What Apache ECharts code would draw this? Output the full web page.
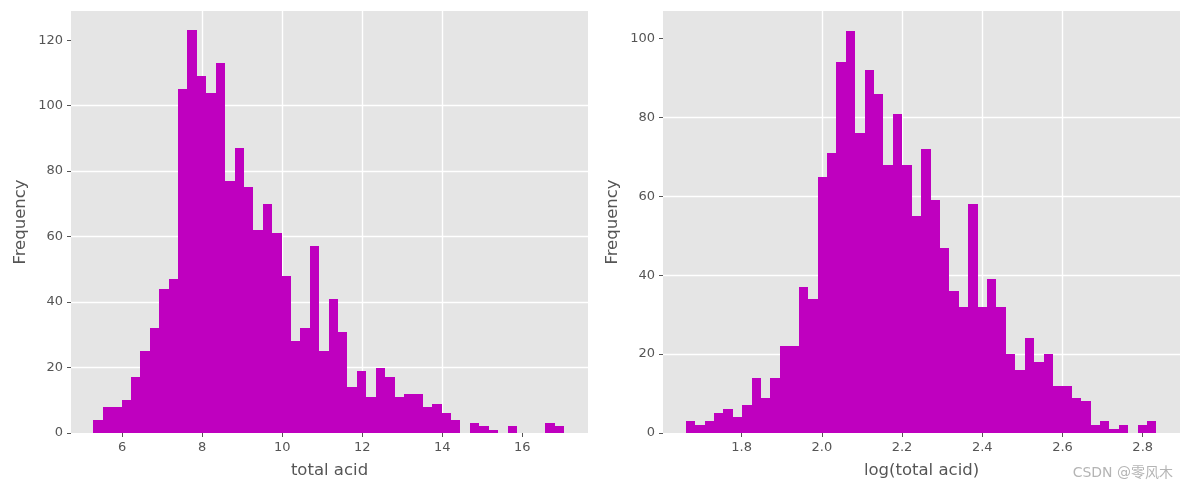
<!DOCTYPE html>
<html>
<head>
<meta charset="utf-8">
<style>
  html, body { margin: 0; padding: 0; background: #fff; }
  #chart { width: 1189px; height: 490px; }
</style>
<script src="https://cdn.jsdelivr.net/npm/echarts@6/dist/echarts.min.js"></script>
</head>
<body>
<div id="chart"></div>
<script>
// bin counts, 50 bins per panel
const acidCounts = [4, 8, 8, 10, 17, 25, 32, 44, 47, 105, 123, 109, 104, 113, 77, 87, 75, 62, 70, 61,
  48, 28, 32, 57, 25, 41, 31, 14, 19, 11, 20, 17, 11, 12, 12, 8, 9, 6, 4, 0,
  3, 2, 1, 0, 2, 0, 0, 0, 3, 2]
const logAcidCounts = [3, 2, 3, 5, 6, 4, 7, 14, 9, 14, 22, 22, 37, 34, 65, 71, 94, 102, 76, 92,
  86, 68, 81, 68, 55, 72, 59, 47, 36, 32, 58, 32, 39, 32, 20, 16, 24, 18, 20, 12,
  12, 9, 8, 2, 3, 1, 2, 0, 2, 3]

const acidStart = 5.2773
const acidEnd = 17.04
const logAcidStart = 1.6607
const logAcidEnd = 2.8344

const acidXTicks = [6, 8, 10, 12, 14, 16]
const acidYTicks = [0, 20, 40, 60, 80, 100, 120]
const logAcidXTicks = [1.8, 2.0, 2.2, 2.4, 2.6, 2.8]
const logAcidYTicks = [0, 20, 40, 60, 80, 100]

const BAR_COLOR = '#BF00BF'
const TEXT_COLOR = '#555555'
const FONT = '"DejaVu Sans", sans-serif'

function toBins(counts, start, end) {
  const width = (end - start) / counts.length
  return counts.map((c, i) => [start + i * width, start + (i + 1) * width, c])
}

function renderBin(params, api) {
  if (api.value(2) === 0) return null
  const a = api.coord([api.value(0), api.value(2)])
  const b = api.coord([api.value(1), 0])
  const x0 = Math.round(a[0])
  const x1 = Math.round(b[0])
  const y0 = Math.round(a[1])
  return {
    type: 'rect',
    shape: { x: x0, y: y0, width: x1 - x0, height: Math.round(b[1]) - y0 },
    style: { fill: BAR_COLOR }
  }
}

function xAxis(gridIndex, min, max, ticks, name, digits) {
  return {
    type: 'value',
    gridIndex,
    min,
    max,
    name,
    nameLocation: 'middle',
    nameGap: 29,
    nameTextStyle: { color: TEXT_COLOR, fontSize: 16.5, fontFamily: FONT },
    axisLine: { show: false },
    axisTick: { show: true, length: 4, customValues: ticks, lineStyle: { color: TEXT_COLOR, width: 1 } },
    axisLabel: {
      color: TEXT_COLOR, fontSize: 13, fontFamily: FONT, margin: 8,
      customValues: ticks,
      formatter: v => v.toFixed(digits)
    },
    splitLine: { show: true, showMinLine: false, showMaxLine: false, lineStyle: { color: '#fff', width: 1.4 } }
  }
}

function yAxis(gridIndex, max, ticks, nameGap) {
  return {
    type: 'value',
    gridIndex,
    min: 0,
    max,
    name: 'Frequency',
    nameLocation: 'middle',
    nameGap,
    nameTextStyle: { color: TEXT_COLOR, fontSize: 16.5, fontFamily: FONT },
    axisLine: { show: false },
    axisTick: { show: true, length: 4, customValues: ticks, lineStyle: { color: TEXT_COLOR, width: 1 } },
    axisLabel: { color: TEXT_COLOR, fontSize: 13, fontFamily: FONT, margin: 8, padding: [2, 0, 0, 0], customValues: ticks },
    splitLine: { show: true, showMinLine: false, showMaxLine: false, lineStyle: { color: '#fff', width: 1.4 } }
  }
}

const chart = echarts.init(document.getElementById('chart'), null, { renderer: 'canvas' })
chart.setOption({
  animation: false,
  backgroundColor: '#fff',
  grid: [
    { left: 71, top: 11, width: 517, height: 422, show: true, backgroundColor: '#E5E5E5', borderWidth: 0 },
    { left: 663, top: 11, width: 517, height: 422, show: true, backgroundColor: '#E5E5E5', borderWidth: 0 }
  ],
  xAxis: [
    xAxis(0, 4.72, 17.64, acidXTicks, 'total acid', 0),
    xAxis(1, 1.604, 2.893, logAcidXTicks, 'log(total acid)', 1)
  ],
  yAxis: [
    yAxis(0, 128.9, acidYTicks, 42),
    yAxis(1, 107, logAcidYTicks, 42)
  ],
  series: [
    {
      type: 'custom', xAxisIndex: 0, yAxisIndex: 0, renderItem: renderBin,
      encode: { x: [0, 1], y: 2 }, data: toBins(acidCounts, acidStart, acidEnd)
    },
    {
      type: 'custom', xAxisIndex: 1, yAxisIndex: 1, renderItem: renderBin,
      encode: { x: [0, 1], y: 2 }, data: toBins(logAcidCounts, logAcidStart, logAcidEnd)
    }
  ],
  graphic: [{
    type: 'text',
    right: 16,
    top: 466,
    style: {
      text: 'CSDN @零风木',
      fill: 'rgba(130,130,130,0.6)',
      font: '14px "DejaVu Sans", "Noto Sans CJK SC", sans-serif'
    }
  }]
})
</script>
</body>
</html>
